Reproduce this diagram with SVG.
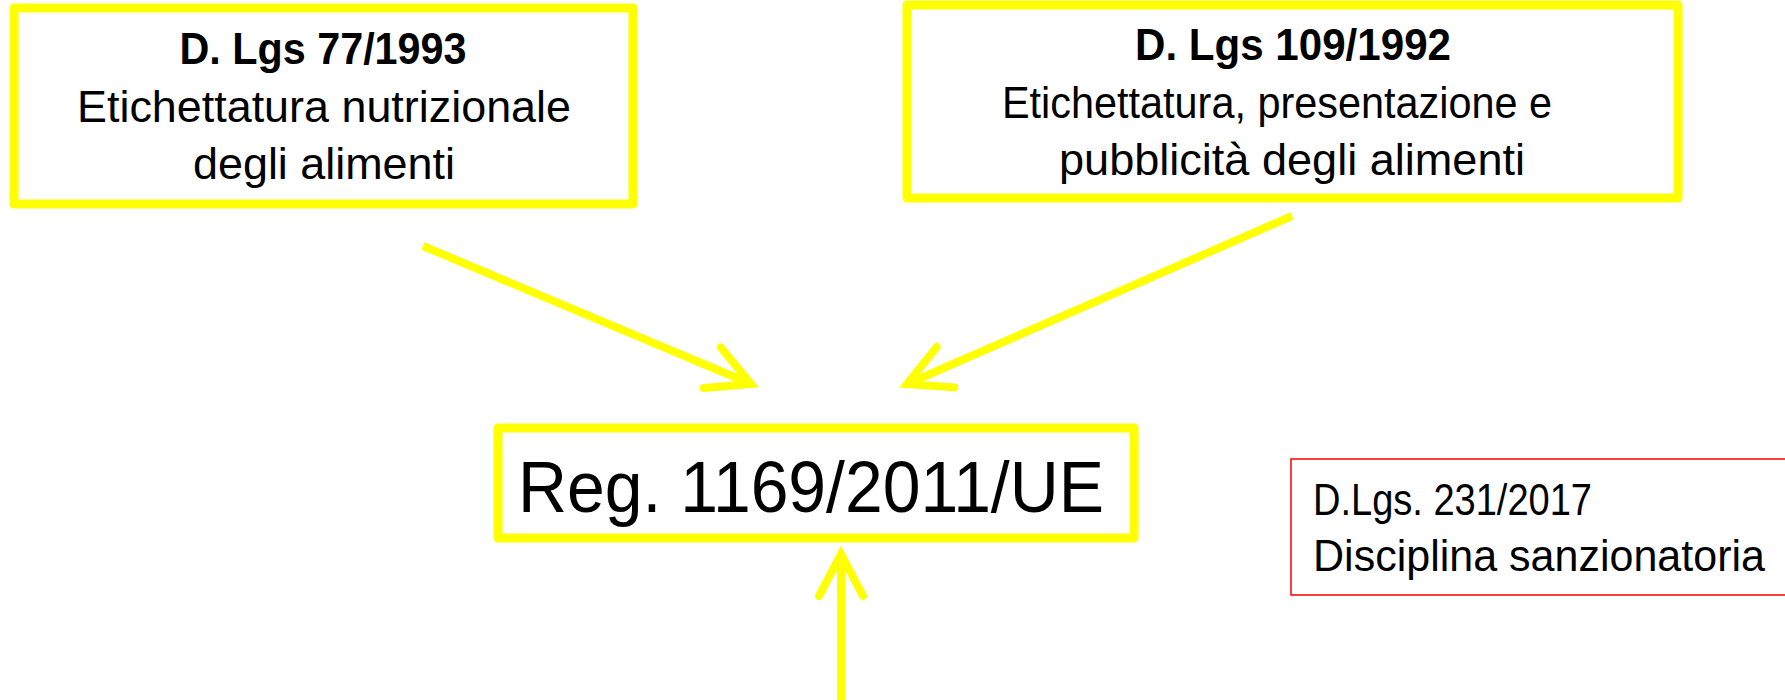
<svg xmlns="http://www.w3.org/2000/svg" width="1785" height="700" viewBox="0 0 1785 700">
<style>
.ybox{fill:#ffffff;stroke:#ffff00;stroke-width:9;stroke-linejoin:round}
.rbox{fill:#ffffff;stroke:#ff0000;stroke-width:1.5}
.t{font-family:"Liberation Sans","Open Sans",Arial,sans-serif;fill:#000000;text-anchor:middle}
.b{font-weight:bold}
.l{text-anchor:start}
.arr{stroke:#ffff00;stroke-width:8;fill:none;marker-end:url(#head)}
</style>
<defs>
<marker id="head" markerUnits="userSpaceOnUse" viewBox="-50 -30 56 60" refX="0" refY="0" markerWidth="56" markerHeight="60" orient="auto" overflow="visible">
<path d="M-42,-22 L0,0 L-42,22" fill="none" stroke="#ffff00" stroke-width="8" stroke-linejoin="miter" stroke-linecap="round"/>
</marker>
</defs>
<rect width="1785" height="700" fill="#ffffff"/>
<g id="connectors">
<line class="arr" x1="423" y1="246" x2="751" y2="384"/>
<line class="arr" x1="1292" y1="216" x2="907" y2="384"/>
<line class="arr" x1="841" y1="700" x2="841" y2="554"/>
</g>
<g id="dlgs77">
<rect class="ybox" x="14" y="8" width="619" height="196"/>
<text class="t b" x="323" y="64" font-size="45" textLength="287" lengthAdjust="spacingAndGlyphs">D. Lgs 77/1993</text>
<text class="t" x="324" y="122" font-size="45" textLength="494" lengthAdjust="spacingAndGlyphs">Etichettatura nutrizionale</text>
<text class="t" x="324" y="179" font-size="45" textLength="262" lengthAdjust="spacingAndGlyphs">degli alimenti</text>
</g>
<g id="dlgs109">
<rect class="ybox" x="907" y="5" width="771" height="193"/>
<text class="t b" x="1293" y="60" font-size="45" textLength="316" lengthAdjust="spacingAndGlyphs">D. Lgs 109/1992</text>
<text class="t" x="1277" y="118" font-size="45" textLength="550" lengthAdjust="spacingAndGlyphs">Etichettatura, presentazione e</text>
<text class="t" x="1292" y="175" font-size="45" textLength="466" lengthAdjust="spacingAndGlyphs">pubblicità degli alimenti</text>
</g>
<g id="reg1169">
<rect class="ybox" x="498" y="428" width="636" height="110"/>
<text class="t" x="811" y="512" font-size="73" textLength="586" lengthAdjust="spacingAndGlyphs">Reg. 1169/2011/UE</text>
</g>
<g id="dlgs231">
<rect class="rbox" x="1291" y="459" width="510" height="136"/>
<text class="t l" x="1313" y="515" font-size="44" textLength="279" lengthAdjust="spacingAndGlyphs">D.Lgs. 231/2017</text>
<text class="t l" x="1313" y="571" font-size="44" textLength="452" lengthAdjust="spacingAndGlyphs">Disciplina sanzionatoria</text>
</g>
</svg>
